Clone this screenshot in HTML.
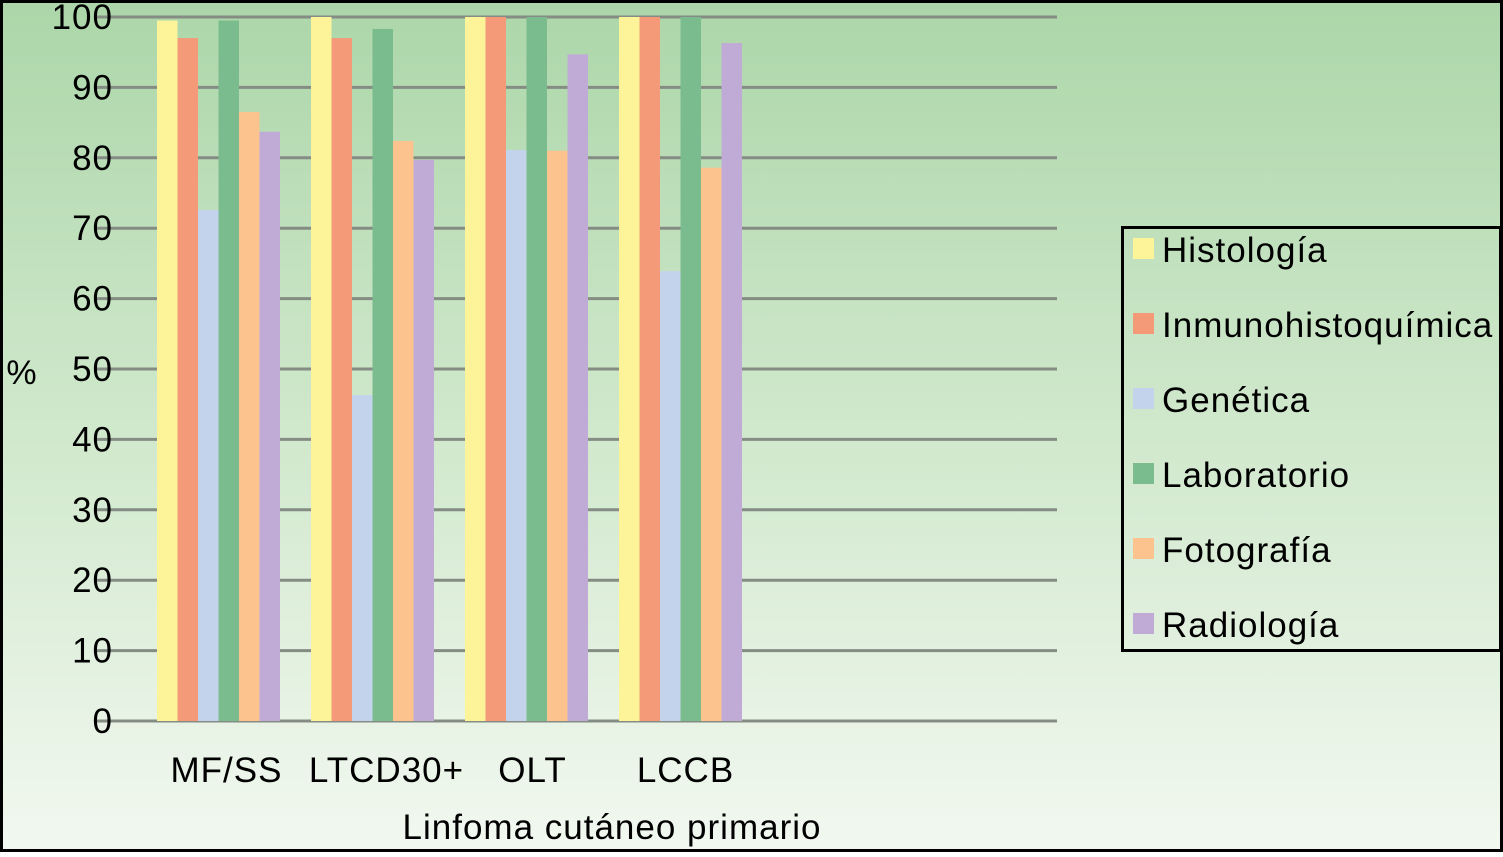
<!DOCTYPE html>
<html><head><meta charset="utf-8"><style>
html,body{margin:0;padding:0}
body{width:1503px;height:852px;overflow:hidden;font-family:"Liberation Sans",Arial,sans-serif}
text{letter-spacing:1px}
</style></head><body>
<svg id="chart" width="1503" height="852" xmlns="http://www.w3.org/2000/svg">
<defs><linearGradient id="bg" x1="0" y1="0" x2="0" y2="1">
<stop offset="0" stop-color="#acd6a9"/><stop offset="0.5" stop-color="#d0e8cc"/><stop offset="1" stop-color="#f2f8f0"/></linearGradient></defs>
<rect x="1.5" y="1.5" width="1500" height="849" fill="url(#bg)" stroke="#000" stroke-width="3"/>
<g id="grid"></g><g id="bars"></g><g id="ylabels"></g><g id="xlabels"></g>
<text x="22" y="384" font-size="34" text-anchor="middle">%</text>
<text x="612" y="839" font-size="35" text-anchor="middle">Linfoma cutáneo primario</text>
<g id="legend">
<rect x="1122.5" y="227.5" width="378" height="423" fill="none" stroke="#000" stroke-width="3"/>
</g>
</svg>
<script>
const categories=["MF/SS","LTCD30+","OLT","LCCB"];
const seriesNames=["Histología","Inmunohistoquímica","Genética","Laboratorio","Fotografía","Radiología"];
const histologia=[99.5,100,100,100];
const inmuno=[97,97,100,100];
const genetica=[72.6,46.3,81.1,63.9];
const laboratorio=[99.5,98.3,100,100];
const fotografia=[86.5,82.4,81,78.6];
const radiologia=[83.7,79.7,94.7,96.3];
const yTicks=[0,10,20,30,40,50,60,70,80,90,100];
const series=[histologia,inmuno,genetica,laboratorio,fotografia,radiologia];
const colors=["#fdf49a","#f59a78","#c4d3ec","#7bbc8e","#fcc38e","#c0abd6"];
const NS="http://www.w3.org/2000/svg";
const y=v=>721-v*7.04;
const x0=157,groupW=154,barW=20.5;
function mk(t,a,p){const e=document.createElementNS(NS,t);for(const k in a)e.setAttribute(k,a[k]);document.getElementById(p).appendChild(e);return e;}
yTicks.forEach(t=>{
  const l=mk('line',{x1:95,x2:1057,y1:y(t),y2:y(t),stroke:'#848c84','stroke-width':3},'grid');
  
  
  const tx=mk('text',{x:113,y:y(t)+12,'font-size':35,'text-anchor':'end'},'ylabels');
  tx.textContent=t;
  
  
});
const labelShift=[4,10,2,1];
categories.forEach((c,i)=>{
  series.forEach((s,j)=>{
    const r=mk('rect',{x:x0+i*groupW+j*barW,y:y(s[i]),width:barW,height:y(0)-y(s[i]),fill:colors[j]},'bars');
    
    
  });
  const tx=mk('text',{x:x0+i*groupW+3*barW+4+labelShift[i],y:782,'font-size':35,'text-anchor':'middle'},'xlabels');
  tx.textContent=c;
  
  
});
seriesNames.forEach((n,j)=>{
  const sw=mk('rect',{x:1133,y:238+j*75,width:21,height:21,fill:colors[j]},'legend');
  
  
  const tx=mk('text',{x:1162,y:262+j*75,'font-size':35},'legend');
  tx.textContent=n;
  
  
});
</script>
</body></html>
